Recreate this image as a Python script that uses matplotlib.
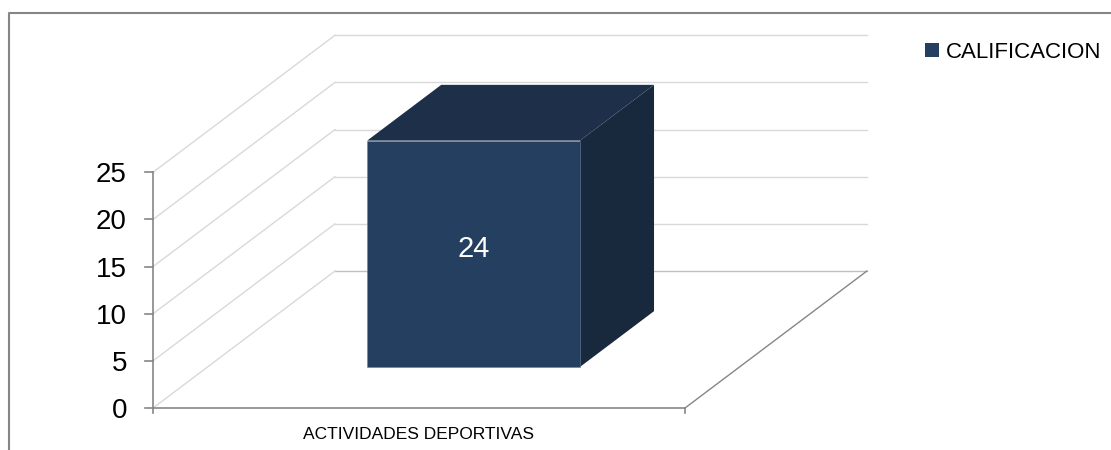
import matplotlib.pyplot as plt
from matplotlib.patches import Polygon, Patch

categories = ['ACTIVIDADES DEPORTIVAS']
series_name = 'CALIFICACION'
values = [24]
y_ticks = [0, 5, 10, 15, 20, 25]

narrow = ['Liberation Sans Narrow', 'Liberation Sans', 'DejaVu Sans']

# oblique projection: depth d in 0..1 shifts x and y
DX = 0.342
DY = 14.53
def proj(x, y, d):
    return x + d * DX, y + d * DY

fig = plt.figure(figsize=(11.11, 4.5), dpi=100)
ax = fig.add_axes([0, 0, 1, 1])
ax.set_xlim(-0.2876, 1.8008)
ax.set_ylim(-4.45, 43.27)
ax.axis('off')

n = len(categories)
grid_col = '#d9d9d9'
axis_col = '#868686'

# back wall gridlines and side wall diagonals
for v in y_ticks:
    x0, y0 = proj(0, v, 1)
    x1, y1 = proj(n, v, 1)
    ax.plot([x0, x1], [y0, y1], color='#c0c0c0' if v == 0 else grid_col, lw=1.0, zorder=1)
    fx, fy = proj(0, v, 0)
    ax.plot([fx, x0], [fy, y0], color=grid_col, lw=1.0, zorder=1)

# floor right edge and front floor edge
ax.plot(*zip(proj(n, 0, 0), proj(n, 0, 1)), color=axis_col, lw=1.0, zorder=2)
ax.plot([0, n], [0, 0], color=axis_col, lw=1.2, zorder=2)

# value axis
ax.plot([0, 0], [0, y_ticks[-1]], color=axis_col, lw=1.2, zorder=2)
for v in y_ticks:
    ax.plot([-0.015, 0], [v, v], color=axis_col, lw=1.2, zorder=2)
    ax.text(-0.049, v, str(v), ha='right', va='center_baseline', fontsize=20,
            family=narrow, color='black')
for i in range(n + 1):
    ax.plot([i, i], [0, -0.5], color=axis_col, lw=1.2, zorder=2)

# bars
front_c = '#243f60'
top_c = '#1e3049'
side_c = '#18293e'
w = 0.40
d0, d1 = 0.30, 0.707
for i, (cat, val) in enumerate(zip(categories, values)):
    xl = i + 0.5 - w / 2
    xr = i + 0.5 + w / 2
    front = [proj(xl, 0, d0), proj(xr, 0, d0), proj(xr, val, d0), proj(xl, val, d0)]
    top = [proj(xl, val, d0), proj(xr, val, d0), proj(xr, val, d1), proj(xl, val, d1)]
    side = [proj(xr, 0, d0), proj(xr, 0, d1), proj(xr, val, d1), proj(xr, val, d0)]
    ax.add_patch(Polygon(side, closed=True, facecolor=side_c, edgecolor='none', zorder=3))
    ax.add_patch(Polygon(top, closed=True, facecolor=top_c, edgecolor='none', zorder=3))
    ax.add_patch(Polygon(front, closed=True, facecolor=front_c, edgecolor='#6f819a',
                         lw=0.4, zorder=4))
    cx, cy = proj(i + 0.5, val / 2 + 0.8, d0)
    ax.text(cx, cy, str(val), ha='center', va='center_baseline', fontsize=21,
            family=['Liberation Sans', 'DejaVu Sans'], color='white', zorder=5)
    ax.text(i + 0.5, -2.7, cat, ha='center', va='center_baseline', fontsize=12.5,
            family=narrow, color='black')

# outer chart border
ax.plot([9 / 1111, 9 / 1111, 1.0], [0.0, 1 - 13 / 450, 1 - 13 / 450],
        transform=ax.transAxes, color=axis_col, lw=1.5, clip_on=False)

handle = Patch(facecolor=front_c, edgecolor='none', label=series_name)
fig.legend(handles=[handle], loc='upper left', bbox_to_anchor=(925 / 1111, 1 - 42 / 450),
           frameon=False, borderpad=0, borderaxespad=0, handlelength=0.62,
           handleheight=0.62, handletextpad=0.3, prop={'family': narrow, 'size': 16})

fig.savefig('out.png', dpi=100)
